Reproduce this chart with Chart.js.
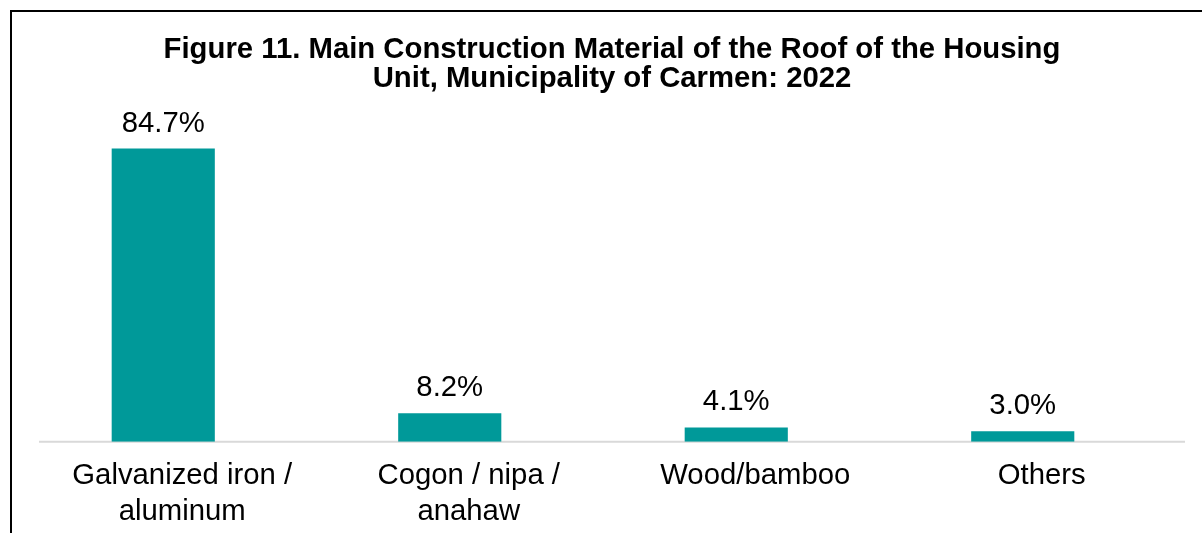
<!DOCTYPE html>
<html>
<head>
<meta charset="utf-8">
<script src="https://cdn.jsdelivr.net/npm/chart.js@4.4.0/dist/chart.umd.min.js"></script>
<style>
  html, body { margin: 0; padding: 0; background: #fff; overflow: hidden; }
  .frame { position: absolute; left: 10px; top: 10px; border-left: 2px solid #000; border-top: 2px solid #000; }
  canvas { display: block; }
</style>
</head>
<body>
<div class="frame">
  <canvas id="chart" width="1200" height="540"></canvas>
</div>
<script>
const categories = [
  ['Galvanized iron /', 'aluminum'],
  ['Cogon / nipa /', 'anahaw'],
  'Wood/bamboo',
  'Others'
];
const percentShares = [84.7, 8.2, 4.1, 3.0];
const titleLines = [
  'Figure 11. Main Construction Material of the Roof of the Housing',
  'Unit, Municipality of Carmen: 2022'
];

const FONT = "'Liberation Sans', Arial, sans-serif";

// labels above bars
const barLabels = {
  id: 'barLabels',
  afterDatasetsDraw(chart) {
    const ctx = chart.ctx;
    const meta = chart.getDatasetMeta(0);
    ctx.save();
    ctx.font = '29.3px ' + FONT;
    ctx.fillStyle = '#000';
    ctx.textAlign = 'center';
    ctx.textBaseline = 'alphabetic';
    meta.data.forEach(function(bar, i) {
      ctx.fillText(percentShares[i].toFixed(1) + '%', bar.x, bar.y - 17);
    });
    ctx.restore();
  }
};

// category axis line, slightly offset right like the original
const baseLine = {
  id: 'baseLine',
  beforeDatasetsDraw(chart) {
    const ctx = chart.ctx;
    const y = chart.scales.y.getPixelForValue(0);
    ctx.save();
    ctx.strokeStyle = '#d9d9d9';
    ctx.lineWidth = 2;
    ctx.beginPath();
    ctx.moveTo(chart.chartArea.left + 19, y);
    ctx.lineTo(chart.chartArea.right + 19, y);
    ctx.stroke();
    ctx.restore();
  }
};

new Chart('chart', {
  type: 'bar',
  data: {
    labels: categories,
    datasets: [{
      data: percentShares,
      backgroundColor: '#009999',
      barPercentage: 0.36,
      categoryPercentage: 1.0
    }]
  },
  options: {
    responsive: false,
    animation: false,
    layout: { padding: { left: 8, right: 8, top: 0, bottom: 14 } },
    plugins: {
      legend: { display: false },
      tooltip: { enabled: false },
      title: {
        display: true,
        text: titleLines,
        color: '#000',
        font: { family: FONT, size: 29.3, weight: 'bold', lineHeight: 1.0 },
        padding: { top: 23, bottom: 2 }
      }
    },
    scales: {
      x: {
        grid: { display: false },
        border: { display: false },
        ticks: {
          color: '#000',
          padding: 9,
          labelOffset: 19,
          maxRotation: 0,
          font: { family: FONT, size: 29.3, lineHeight: 1.2 }
        }
      },
      y: {
        position: 'right',
        min: 0,
        max: 100,
        grid: { display: false },
        border: { display: false },
        ticks: { display: false },
        afterFit(scale) { scale.width = 38; }
      }
    }
  },
  plugins: [baseLine, barLabels]
});
</script>
</body>
</html>
